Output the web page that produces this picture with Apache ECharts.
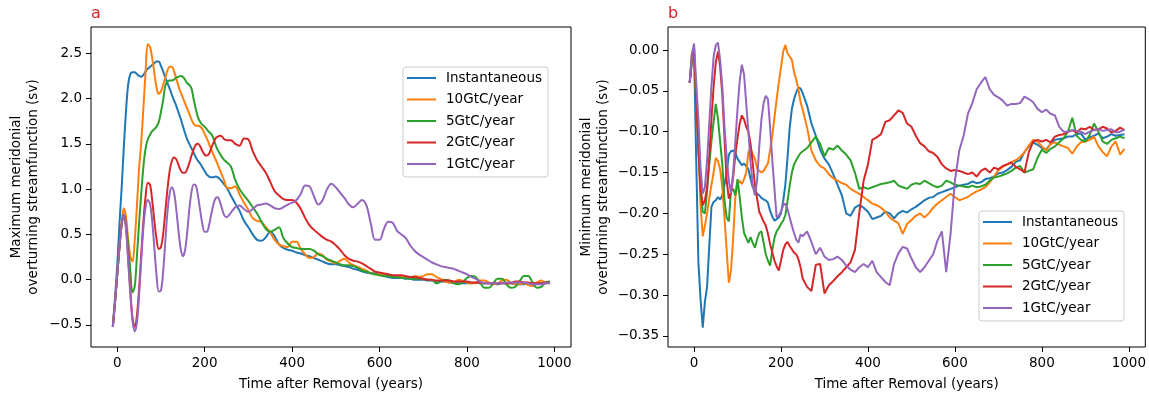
<!DOCTYPE html>
<html><head><meta charset="utf-8">
<script src="https://cdn.jsdelivr.net/npm/echarts@6/dist/echarts.min.js"></script>
<style>html,body{margin:0;padding:0;background:#fff}#c{width:1149px;height:396px}</style>
</head><body><div id="c"></div>
<script>
// ---- data ----
const years = [-10,-5,0,5,10,15,20,25,30,35,
  40,45,50,55,60,65,70,75,80,85,
  90,95,100,105,110,115,120,125,130,135,
  140,145,150,155,160,165,170,175,180,185,
  190,195,200,205,210,215,220,225,230,235,
  240,245,250,
  260,270,280,290,300,310,320,330,340,350,
  360,370,380,390,400,410,420,430,440,450,
  460,470,480,490,500,510,520,530,540,550,
  560,570,580,590,600,610,620,630,640,650,
  660,670,680,690,700,710,720,730,740,750,
  760,770,780,790,800,810,820,830,840,850,
  860,870,880,890,900,910,920,930,940,950,
  960,970,980,990];

const seriesNames = ['Instantaneous','10GtC/year','5GtC/year','2GtC/year','1GtC/year'];
const xTicks = [0,200,400,600,800,1000];
const yTicksA = [-0.5,0,0.5,1,1.5,2,2.5];
const yTicksB = [-0.35,-0.3,-0.25,-0.2,-0.15,-0.1,-0.05,0];

// Panel a: maximum meridional overturning streamfunction (Sv)
const maxInst = [-0.52,-0.20,0.15,0.60,1.00,1.45,1.85,2.15,2.27,2.29,
  2.29,2.27,2.25,2.24,2.26,2.30,2.33,2.35,2.37,2.39,
  2.41,2.41,2.36,2.30,2.23,2.17,2.11,2.04,1.98,1.92,
  1.85,1.78,1.70,1.62,1.55,1.50,1.45,1.40,1.35,1.31,
  1.28,1.24,1.20,1.16,1.14,1.13,1.13,1.14,1.13,1.11,
  1.08,1.05,1.02,
  0.93,0.84,0.76,0.65,0.58,0.50,0.44,0.43,0.47,0.53,
  0.48,0.39,0.35,0.33,0.32,0.30,0.29,0.27,0.26,0.24,
  0.22,0.20,0.18,0.17,0.17,0.16,0.15,0.14,0.12,0.11,
  0.09,0.08,0.07,0.07,0.06,0.04,0.03,0.02,0.02,0.02,
  0.01,0.01,0.00,0.00,0.00,-0.01,-0.01,-0.02,-0.02,-0.02,
  -0.03,-0.03,-0.04,-0.04,-0.04,-0.04,-0.03,-0.04,-0.04,-0.04,
  -0.04,-0.05,-0.04,-0.04,-0.04,-0.05,-0.05,-0.05,-0.04,-0.04,
  -0.04,-0.04,-0.04,-0.04];
const max10 = [-0.52,-0.25,0.05,0.35,0.62,0.79,0.70,0.45,0.26,0.20,
  0.43,0.80,1.22,1.52,1.90,2.30,2.60,2.57,2.45,2.28,
  2.12,2.05,2.08,2.15,2.23,2.31,2.35,2.35,2.30,2.22,
  2.14,2.07,2.01,1.95,1.89,1.83,1.77,1.72,1.70,1.70,
  1.69,1.66,1.61,1.56,1.50,1.44,1.38,1.33,1.27,1.21,
  1.15,1.09,1.02,
  1.01,1.03,0.94,0.85,0.77,0.68,0.65,0.64,0.58,0.52,
  0.44,0.39,0.37,0.36,0.42,0.42,0.34,0.28,0.24,0.25,
  0.29,0.27,0.22,0.20,0.18,0.21,0.23,0.19,0.16,0.14,
  0.12,0.10,0.07,0.06,0.06,0.06,0.05,0.04,0.04,0.03,
  0.02,0.02,0.04,0.03,0.04,0.06,0.06,0.03,0.01,-0.02,
  -0.03,-0.03,0.00,-0.01,-0.03,-0.04,-0.04,-0.01,-0.01,-0.03,
  -0.05,-0.04,-0.01,0.00,-0.03,-0.05,-0.05,-0.04,-0.06,-0.07,
  -0.03,-0.01,-0.03,-0.03];
const max5 = [-0.52,-0.25,0.05,0.35,0.60,0.72,0.62,0.38,0.10,-0.14,
  -0.08,0.25,0.62,0.95,1.25,1.45,1.55,1.60,1.64,1.66,
  1.69,1.74,1.85,1.98,2.14,2.19,2.20,2.20,2.21,2.23,
  2.24,2.25,2.24,2.21,2.17,2.15,2.11,1.99,1.88,1.79,
  1.74,1.71,1.69,1.66,1.63,1.61,1.56,1.49,1.43,1.39,
  1.35,1.32,1.30,
  1.25,1.10,1.00,0.93,0.87,0.80,0.73,0.64,0.56,0.53,
  0.55,0.58,0.46,0.40,0.36,0.35,0.34,0.34,0.34,0.32,
  0.28,0.26,0.23,0.21,0.19,0.17,0.16,0.16,0.15,0.13,
  0.10,0.09,0.07,0.06,0.05,0.04,0.04,0.03,0.03,0.02,
  0.02,0.01,0.01,0.01,0.01,0.00,0.00,-0.04,-0.02,0.00,
  -0.01,-0.04,-0.05,-0.03,0.02,0.04,0.03,-0.03,-0.09,-0.09,
  -0.04,0.01,0.01,-0.05,-0.09,-0.08,-0.02,0.04,0.04,-0.03,
  -0.09,-0.08,-0.03,-0.02];
const max2 = [-0.52,-0.25,0.05,0.35,0.60,0.72,0.58,0.25,-0.12,-0.42,
  -0.52,-0.40,-0.10,0.28,0.65,0.92,1.07,1.05,0.88,0.65,
  0.45,0.34,0.36,0.50,0.75,1.00,1.20,1.31,1.35,1.33,
  1.27,1.21,1.18,1.18,1.22,1.29,1.37,1.44,1.49,1.50,
  1.47,1.42,1.38,1.37,1.39,1.45,1.51,1.56,1.58,1.59,
  1.58,1.55,1.54,
  1.54,1.50,1.48,1.56,1.55,1.42,1.32,1.25,1.18,1.08,
  0.98,0.93,0.89,0.88,0.88,0.85,0.78,0.68,0.60,0.55,
  0.51,0.47,0.44,0.42,0.38,0.33,0.27,0.23,0.21,0.20,
  0.18,0.15,0.12,0.09,0.08,0.07,0.06,0.05,0.05,0.05,
  0.04,0.03,0.03,0.02,0.01,0.00,0.00,-0.01,-0.01,-0.01,
  -0.01,-0.02,-0.02,-0.02,-0.02,-0.03,-0.03,-0.03,-0.04,-0.04,
  -0.04,-0.04,-0.04,-0.04,-0.04,-0.02,-0.02,-0.03,-0.03,-0.04,
  -0.04,-0.04,-0.03,-0.03];
const max1 = [-0.52,-0.25,0.05,0.35,0.60,0.72,0.58,0.22,-0.15,-0.45,
  -0.57,-0.48,-0.18,0.22,0.58,0.80,0.88,0.84,0.65,0.35,
  0.05,-0.13,-0.12,0.08,0.42,0.75,0.95,1.02,0.96,0.78,
  0.55,0.35,0.26,0.32,0.52,0.78,0.97,1.05,1.04,0.92,
  0.76,0.61,0.53,0.53,0.60,0.72,0.83,0.90,0.91,0.86,
  0.78,0.71,0.69,
  0.74,0.80,0.82,0.78,0.75,0.78,0.82,0.83,0.84,0.82,
  0.79,0.78,0.80,0.83,0.85,0.88,0.95,1.04,1.03,0.92,
  0.83,0.88,1.00,1.06,1.02,0.96,0.90,0.83,0.80,0.84,
  0.88,0.82,0.62,0.44,0.44,0.56,0.64,0.63,0.54,0.50,
  0.46,0.38,0.32,0.28,0.25,0.22,0.19,0.17,0.15,0.14,
  0.13,0.12,0.10,0.08,0.06,0.03,0.01,-0.02,-0.04,-0.04,
  -0.04,-0.04,-0.04,-0.03,-0.03,-0.03,-0.03,-0.03,-0.04,-0.05,
  -0.05,-0.05,-0.04,-0.03];

// Panel b: minimum meridional overturning streamfunction (Sv)
const minInst = [-0.040,-0.015,-0.002,-0.135,-0.260,-0.305,-0.340,-0.308,-0.290,-0.240,
  -0.192,-0.186,-0.184,-0.180,-0.183,-0.178,-0.165,-0.150,-0.128,-0.124,
  -0.123,-0.126,-0.133,-0.137,-0.141,-0.139,-0.142,-0.146,-0.158,-0.168,
  -0.172,-0.176,-0.178,-0.181,-0.183,-0.184,-0.187,-0.197,-0.204,-0.209,
  -0.207,-0.205,-0.200,-0.185,-0.165,-0.132,-0.095,-0.072,-0.060,-0.052,
  -0.046,-0.047,-0.053,
  -0.068,-0.090,-0.105,-0.122,-0.133,-0.140,-0.152,-0.165,-0.178,-0.200,
  -0.203,-0.193,-0.190,-0.193,-0.198,-0.207,-0.205,-0.203,-0.198,-0.200,
  -0.206,-0.200,-0.197,-0.199,-0.195,-0.192,-0.188,-0.184,-0.181,-0.180,
  -0.176,-0.174,-0.172,-0.170,-0.168,-0.166,-0.165,-0.164,-0.161,-0.163,
  -0.162,-0.158,-0.157,-0.155,-0.151,-0.150,-0.147,-0.143,-0.137,-0.135,
  -0.125,-0.118,-0.113,-0.116,-0.120,-0.122,-0.115,-0.110,-0.109,-0.108,
  -0.106,-0.106,-0.103,-0.102,-0.110,-0.107,-0.105,-0.102,-0.108,-0.106,
  -0.103,-0.105,-0.104,-0.103];
const min10 = [-0.040,-0.012,-0.005,-0.060,-0.120,-0.190,-0.228,-0.215,-0.200,-0.182,
  -0.165,-0.150,-0.132,-0.136,-0.146,-0.168,-0.205,-0.245,-0.285,-0.270,
  -0.230,-0.180,-0.165,-0.160,-0.164,-0.158,-0.150,-0.125,-0.120,-0.128,
  -0.133,-0.145,-0.148,-0.150,-0.148,-0.143,-0.139,-0.122,-0.105,-0.082,
  -0.060,-0.040,-0.021,-0.002,0.006,-0.004,-0.008,-0.012,-0.027,-0.036,
  -0.048,-0.064,-0.073,
  -0.095,-0.123,-0.135,-0.142,-0.145,-0.152,-0.157,-0.160,-0.163,-0.165,
  -0.170,-0.173,-0.176,-0.180,-0.184,-0.188,-0.190,-0.193,-0.198,-0.205,
  -0.209,-0.212,-0.225,-0.213,-0.208,-0.203,-0.200,-0.205,-0.200,-0.193,
  -0.188,-0.184,-0.180,-0.176,-0.180,-0.184,-0.182,-0.180,-0.176,-0.173,
  -0.171,-0.168,-0.162,-0.155,-0.147,-0.143,-0.140,-0.137,-0.135,-0.131,
  -0.125,-0.117,-0.110,-0.112,-0.118,-0.123,-0.115,-0.113,-0.116,-0.118,
  -0.120,-0.127,-0.118,-0.113,-0.112,-0.110,-0.106,-0.118,-0.125,-0.130,
  -0.118,-0.112,-0.128,-0.121];
const min5 = [-0.040,-0.012,-0.004,-0.060,-0.120,-0.170,-0.198,-0.200,-0.172,-0.140,
  -0.112,-0.088,-0.066,-0.084,-0.112,-0.140,-0.184,-0.205,-0.210,-0.172,
  -0.170,-0.178,-0.158,-0.180,-0.205,-0.224,-0.230,-0.236,-0.229,-0.236,
  -0.242,-0.232,-0.224,-0.222,-0.236,-0.250,-0.258,-0.264,-0.245,-0.230,
  -0.222,-0.218,-0.213,-0.209,-0.202,-0.185,-0.166,-0.150,-0.140,-0.135,
  -0.130,-0.126,-0.124,
  -0.120,-0.113,-0.106,-0.115,-0.130,-0.120,-0.122,-0.117,-0.123,-0.128,
  -0.135,-0.150,-0.170,-0.168,-0.170,-0.168,-0.166,-0.164,-0.163,-0.162,
  -0.160,-0.166,-0.168,-0.170,-0.165,-0.163,-0.164,-0.160,-0.163,-0.166,
  -0.168,-0.166,-0.160,-0.162,-0.165,-0.166,-0.167,-0.168,-0.166,-0.168,
  -0.167,-0.165,-0.160,-0.156,-0.155,-0.153,-0.151,-0.148,-0.144,-0.142,
  -0.150,-0.148,-0.146,-0.132,-0.122,-0.126,-0.121,-0.118,-0.113,-0.108,
  -0.100,-0.083,-0.105,-0.110,-0.112,-0.104,-0.090,-0.100,-0.112,-0.115,
  -0.110,-0.108,-0.106,-0.108];
const min2 = [-0.040,-0.005,0.003,-0.060,-0.120,-0.170,-0.190,-0.184,-0.168,-0.130,
  -0.085,-0.045,-0.015,-0.002,-0.020,-0.055,-0.107,-0.160,-0.182,-0.175,
  -0.155,-0.128,-0.108,-0.090,-0.080,-0.085,-0.094,-0.100,-0.115,-0.139,
  -0.165,-0.182,-0.198,-0.204,-0.210,-0.215,-0.225,-0.238,-0.248,-0.258,
  -0.265,-0.270,-0.258,-0.245,-0.238,-0.235,-0.240,-0.244,-0.248,-0.250,
  -0.256,-0.266,-0.280,
  -0.290,-0.295,-0.263,-0.262,-0.298,-0.288,-0.283,-0.277,-0.272,-0.266,
  -0.260,-0.245,-0.200,-0.160,-0.140,-0.110,-0.107,-0.103,-0.088,-0.086,
  -0.080,-0.074,-0.077,-0.090,-0.094,-0.105,-0.114,-0.118,-0.124,-0.126,
  -0.131,-0.140,-0.145,-0.148,-0.147,-0.148,-0.150,-0.152,-0.150,-0.155,
  -0.148,-0.145,-0.150,-0.144,-0.146,-0.142,-0.140,-0.138,-0.143,-0.146,
  -0.150,-0.125,-0.112,-0.110,-0.112,-0.110,-0.113,-0.106,-0.104,-0.103,
  -0.100,-0.098,-0.101,-0.096,-0.097,-0.094,-0.098,-0.097,-0.094,-0.096,
  -0.101,-0.099,-0.095,-0.098];
const min1 = [-0.040,-0.005,0.008,-0.040,-0.085,-0.145,-0.176,-0.168,-0.135,-0.090,
  -0.045,-0.008,0.006,0.009,-0.012,-0.045,-0.094,-0.132,-0.160,-0.175,
  -0.150,-0.112,-0.072,-0.038,-0.018,-0.030,-0.065,-0.100,-0.138,-0.165,
  -0.178,-0.160,-0.118,-0.085,-0.065,-0.056,-0.060,-0.095,-0.135,-0.170,
  -0.205,-0.203,-0.198,-0.190,-0.188,-0.195,-0.205,-0.215,-0.224,-0.232,
  -0.236,-0.226,-0.228,
  -0.222,-0.235,-0.250,-0.242,-0.253,-0.257,-0.256,-0.253,-0.257,-0.264,
  -0.269,-0.272,-0.266,-0.262,-0.266,-0.258,-0.272,-0.278,-0.284,-0.288,
  -0.262,-0.249,-0.241,-0.243,-0.255,-0.266,-0.272,-0.266,-0.258,-0.250,
  -0.233,-0.222,-0.272,-0.225,-0.160,-0.123,-0.105,-0.078,-0.065,-0.048,
  -0.040,-0.033,-0.048,-0.055,-0.058,-0.062,-0.068,-0.066,-0.066,-0.065,
  -0.057,-0.060,-0.064,-0.072,-0.076,-0.073,-0.078,-0.080,-0.094,-0.100,
  -0.100,-0.098,-0.099,-0.100,-0.103,-0.100,-0.098,-0.097,-0.099,-0.098,
  -0.097,-0.101,-0.100,-0.097];

const panelA = [maxInst, max10, max5, max2, max1];
const panelB = [minInst, min10, min5, min2, min1];

// ---- styling ----
const COLORS = ['#1f77b4','#ff7f0e','#2ca02c','#d62728','#9467bd'];
const FONT = 'DejaVu Sans';
const FS = 13.5;
const fmt = (v, d) => (v < -1e-9 ? '\u2212' : '') + Math.abs(v).toFixed(d);

function xAxis(gi) {
  return {
    type: 'value', gridIndex: gi, min: -59.9, max: 1037.9, position: 'bottom',
    name: 'Time after Removal (years)', nameLocation: 'middle', nameGap: 30,
    nameTextStyle: {fontFamily: FONT, fontSize: FS, color: '#000'},
    axisLine: {show: false, onZero: false},
    axisTick: {show: true, inside: false, length: 5, customValues: xTicks, lineStyle: {color: '#000', width: 1}},
    axisLabel: {customValues: xTicks, margin: 9, fontFamily: FONT, fontSize: FS, color: '#000', formatter: v => fmt(v, 0)},
    splitLine: {show: false}
  };
}
function yAxis(gi, min, max, ticks, dec, name, gap) {
  return {
    type: 'value', gridIndex: gi, min: min, max: max, position: 'left',
    name: name, nameLocation: 'middle', nameGap: gap, nameRotate: 90,
    nameTextStyle: {fontFamily: FONT, fontSize: FS, color: '#000', lineHeight: 17, align: 'center'},
    axisLine: {show: false, onZero: false},
    axisTick: {show: true, inside: false, length: 5, customValues: ticks, lineStyle: {color: '#000', width: 1}},
    axisLabel: {customValues: ticks, margin: 9, fontFamily: FONT, fontSize: FS, color: '#000', formatter: v => fmt(v, dec)},
    splitLine: {show: false}
  };
}
function legend(left, top) {
  return {
    data: seriesNames, left: left, top: top, orient: 'vertical',
    icon: 'rect', itemWidth: 29, itemHeight: 2, itemGap: 7.5,
    padding: [4, 6, 6, 4], borderColor: '#cccccc', borderWidth: 1, borderRadius: 3,
    backgroundColor: 'rgba(255,255,255,0.8)', selectedMode: false,
    textStyle: {fontFamily: FONT, fontSize: FS, color: '#000', padding: [0, 0, 0, 5]}
  };
}

const series = [];
panelA.forEach((arr, k) => series.push({
  name: seriesNames[k], type: 'line', xAxisIndex: 0, yAxisIndex: 0,
  data: years.map((t, i) => [t, arr[i]]), showSymbol: false, symbol: 'none', smooth: 0.35,
  lineStyle: {width: 2, color: COLORS[k]}, itemStyle: {color: COLORS[k]}
}));
panelB.forEach((arr, k) => series.push({
  name: seriesNames[k], type: 'line', xAxisIndex: 1, yAxisIndex: 1,
  data: years.map((t, i) => [t, arr[i]]), showSymbol: false, symbol: 'none', smooth: false,
  lineStyle: {width: 2, color: COLORS[k]}, itemStyle: {color: COLORS[k]}
}));

const chart = echarts.init(document.getElementById('c'), null, {renderer: 'canvas'});
chart.setOption({
  animation: false,
  backgroundColor: '#fff',
  color: COLORS,
  title: [
    {text: 'a', left: 91, top: 6, padding: 0, textStyle: {color: '#d62728', fontSize: 16, fontWeight: 'normal', fontFamily: FONT}},
    {text: 'b', left: 668, top: 6, padding: 0, textStyle: {color: '#d62728', fontSize: 16, fontWeight: 'normal', fontFamily: FONT}}
  ],
  grid: [
    {left: 91, top: 27, width: 480, height: 320, show: true, borderColor: '#000', borderWidth: 1, backgroundColor: 'transparent'},
    {left: 668, top: 27, width: 479, height: 320, show: true, borderColor: '#000', borderWidth: 1, backgroundColor: 'transparent'}
  ],
  xAxis: [xAxis(0), xAxis(1)],
  yAxis: [
    yAxis(0, -0.743, 2.79, yTicksA, 1, 'Maximum meridonial\noverturning streamfunction (sv)', 49),
    yAxis(1, -0.3636, 0.0282, yTicksB, 2, 'Minimum meridonial\noverturning streamfunction (sv)', 56)
  ],
  legend: [legend(403, 67), legend(979, 211)],
  series: series
});
</script>
</body></html>
